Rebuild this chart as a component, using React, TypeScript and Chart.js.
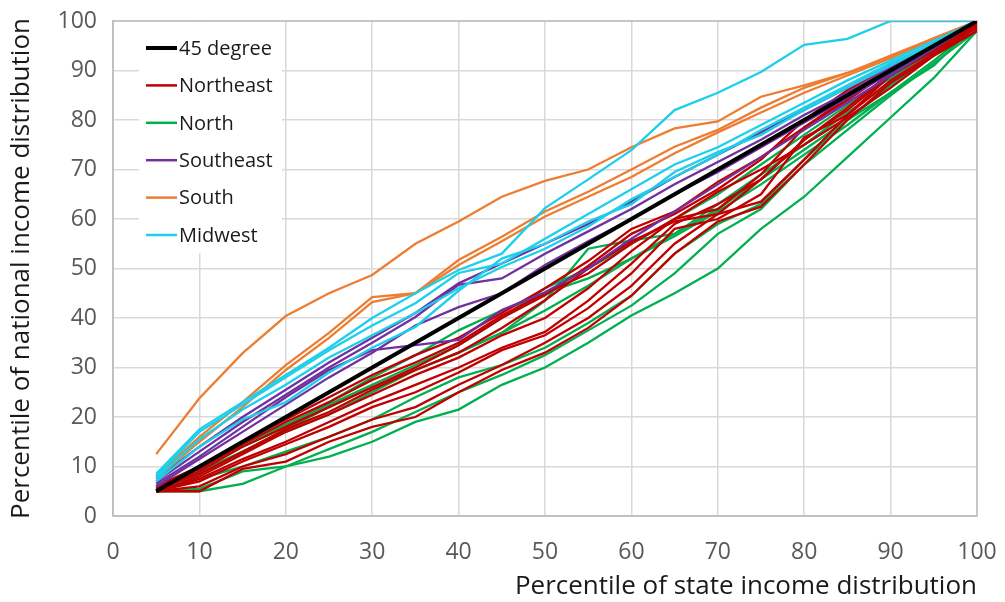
import React, { useEffect, useRef } from "react";
import { Chart, registerables } from "chart.js";

Chart.register(...registerables);

const xPercentiles = [5, 10, 15, 20, 25, 30, 35, 40, 45, 50, 55, 60, 65, 70, 75, 80, 85, 90, 95, 100];

const diagonal = [5, 10, 15, 20, 25, 30, 35, 40, 45, 50, 55, 60, 65, 70, 75, 80, 85, 90, 95, 100];

const northeast = [
  [5, 5, 9.5, 11, 15, 18, 20, 25, 29.5, 33, 38, 44.5, 53, 59.5, 62.5, 71, 80, 87.5, 93, 98],
  [5, 6, 10, 12.5, 16, 19.5, 22, 26.5, 30.5, 35, 40, 46.5, 55, 61, 63.5, 72, 81, 88, 93.5, 98],
  [5, 7, 11, 14.5, 18, 22, 25, 29, 33.5, 36.5, 42, 49, 58, 60, 65, 76.5, 81, 89, 94, 98.5],
  [5, 7.5, 11.5, 15, 19, 23, 26.5, 30, 34, 37.2, 43.5, 51, 59, 63, 68, 76, 82, 89, 94.5, 99],
  [5, 8, 12.5, 17, 20.5, 24.5, 28.5, 32, 36.5, 40, 46, 53.5, 60, 62, 69, 78.5, 84, 90, 95, 99],
  [5.5, 8.5, 13, 17.5, 21, 25.5, 29.5, 33, 38, 43.6, 50, 55.5, 59.5, 61, 68, 76, 82.5, 89.5, 94.5, 99],
  [5.5, 9, 14, 18, 22, 26, 30, 34.5, 40, 44.6, 50.5, 57, 61, 66, 72, 80, 86, 91, 95.5, 99.5],
  [6, 9.5, 14.5, 19, 23, 27.5, 31, 35, 40.5, 45, 49, 55, 60, 65.5, 70, 75, 80.5, 86.5, 93, 99.5],
  [6, 10, 15, 19.5, 24, 28.5, 32.5, 36, 41, 46, 51.5, 58, 61.5, 67.5, 72.5, 78.5, 84.5, 90, 95, 99.5],
];

const north = [
  [5, 5, 6.5, 10, 12, 15, 19, 21.5, 26.5, 30, 35, 40.5, 45, 50, 58, 64.5, 72.5, 80.5, 88.5, 98],
  [5, 5.5, 9, 10, 13.5, 17, 21, 25, 28.5, 32.5, 37.5, 42.5, 49, 57, 62, 71, 78, 85, 91.5, 98],
  [5, 7.5, 10, 13, 16, 19.5, 24, 28, 30.5, 34, 39, 44.5, 53, 59, 63, 72, 80, 87, 93, 99],
  [5, 8.5, 13, 17, 20.5, 25, 29.5, 33, 37, 41.5, 46.5, 52, 57, 63, 69, 75, 81.5, 87.5, 93.5, 99],
  [5.5, 9.5, 14.5, 18.5, 22.5, 26.5, 30.5, 34.5, 40, 46, 50, 55, 60, 65, 71, 77, 83, 88.5, 94, 99],
  [5.5, 9, 13, 17.5, 22, 26, 29.5, 33, 37, 43.5, 54, 55.7, 57, 62, 68, 74, 80, 85.5, 91, 99.5],
  [6, 10, 14, 18, 23, 28, 32.5, 37.5, 41.5, 45, 48, 52, 56.5, 61.5, 67, 73, 79, 85.5, 92, 99],
];

const southeast = [
  [7.5, 14, 20, 25.5, 31, 36, 41, 47, 51, 55, 59, 63.5, 68.5, 73, 77.5, 82, 86.5, 91, 95.5, 100],
  [7, 13, 19, 24.5, 30, 35, 40.2, 46.7, 48, 53, 57.5, 62, 67, 71.5, 76, 81, 85.5, 90.5, 95, 100],
  [6.5, 12, 18, 24, 29.5, 33.5, 34.5, 35.6, 41.6, 45.2, 50, 56, 61.5, 67, 72.5, 78, 83.5, 89, 94.5, 100],
  [6, 11.5, 17, 22.5, 28, 33, 38.5, 42.2, 45, 50.7, 55.5, 60, 65, 69.5, 74.5, 79.5, 84.5, 89.5, 94.5, 100],
];

const south = [
  [12.5, 23.8, 32.9, 40.4, 45, 48.7, 55, 59.5, 64.5, 67.7, 70, 74.5, 78.3, 79.7, 84.7, 87, 89.5, 92.7, 96, 100],
  [8, 16, 23, 30.5, 37, 44.2, 45, 51.7, 56.4, 61.5, 65.5, 70, 74.6, 78, 82.5, 86.5, 89.5, 93, 96.5, 100],
  [7.5, 15, 22, 29.5, 36, 43.2, 45, 50.7, 55.5, 60.5, 64.5, 68.5, 73.3, 77.5, 81.5, 85.5, 89, 92.5, 96.5, 100],
];

const midwest = [
  [8.5, 17.5, 23, 28.5, 34, 40, 45, 49.7, 53, 62.2, 68, 73.9, 82, 85.5, 89.7, 95.2, 96.4, 100, 100, 100],
  [8, 17, 22.5, 28, 33.5, 38.5, 43, 49.1, 51, 56, 61, 66, 71, 74.5, 79, 83.5, 88, 92, 96, 100],
  [7.5, 15.5, 21.5, 26.5, 32, 36.5, 41, 46, 50.3, 54, 58.5, 64, 68.5, 73, 78, 82.5, 87, 91.5, 95.5, 100],
  [7, 14, 19.5, 23, 29, 34, 38.2, 45.5, 52, 55, 59.5, 63, 69.5, 73.5, 77, 82, 86.5, 91, 95.5, 100],
];

const legendLabels = ["45 degree", "Northeast", "North", "Southeast", "South", "Midwest"];
const legendColors = ["#000000", "#C00000", "#00B050", "#7030A0", "#ED7D31", "#1CCFEA"];

const xAxisTitle = "Percentile of state income distribution";
const yAxisTitle = "Percentile of national income distribution";

const FONT = "'Open Sans', 'Noto Sans', sans-serif";

function toPoints(values: number[]) {
  return values.map((v, i) => ({ x: xPercentiles[i], y: v }));
}

export default function App() {
  const canvasRef = useRef<HTMLCanvasElement | null>(null);

  useEffect(() => {
    if (!canvasRef.current) return;

    const mk = (values: number[], color: string, width: number) => ({
      data: toPoints(values),
      borderColor: color,
      backgroundColor: color,
      borderWidth: width,
      pointRadius: 0,
      fill: false,
      tension: 0,
    });

    const datasets: any[] = [];
    datasets.push(mk(diagonal, legendColors[0], 4));
    midwest.forEach((s) => datasets.push(mk(s, legendColors[5], 2.3)));
    south.forEach((s) => datasets.push(mk(s, legendColors[4], 2.3)));
    southeast.forEach((s) => datasets.push(mk(s, legendColors[3], 2.3)));
    northeast.forEach((s) => datasets.push(mk(s, legendColors[1], 2.3)));
    north.forEach((s) => datasets.push(mk(s, legendColors[2], 2.3)));

    const frameAndLegend = {
      id: "frameAndLegend",
      beforeDatasetsDraw(chart: any) {
        const { ctx, chartArea } = chart;
        ctx.save();
        ctx.strokeStyle = "#bfbfbf";
        ctx.lineWidth = 1.5;
        ctx.strokeRect(chartArea.left, chartArea.top, chartArea.right - chartArea.left, chartArea.bottom - chartArea.top);

        const bx = chartArea.left + 26;
        const by = chartArea.top + 1;
        ctx.fillStyle = "#ffffff";
        ctx.fillRect(bx, by, 143, 231);

        ctx.font = "20px " + FONT;
        ctx.textBaseline = "middle";
        ctx.textAlign = "left";
        legendLabels.forEach((label, i) => {
          const y = chartArea.top + 27 + i * 37.4;
          ctx.beginPath();
          ctx.strokeStyle = legendColors[i];
          ctx.lineWidth = i === 0 ? 4 : 2.5;
          ctx.moveTo(bx + 7, y);
          ctx.lineTo(bx + 38, y);
          ctx.stroke();
          ctx.fillStyle = "#1a1a1a";
          ctx.fillText(label, bx + 40, y + 1);
        });
        ctx.restore();
      },
    };

    const chart = new Chart(canvasRef.current, {
      type: "line",
      data: { datasets },
      options: {
        animation: false,
        responsive: true,
        maintainAspectRatio: false,
        layout: { padding: { top: 21, right: 28, left: 0, bottom: 0 } },
        plugins: {
          legend: { display: false },
          tooltip: { enabled: false },
        },
        scales: {
          x: {
            type: "linear",
            min: 0,
            max: 100,
            ticks: {
              stepSize: 10,
              padding: 23,
              color: "#595959",
              font: { family: FONT, size: 23 },
            },
            grid: { color: "#d9d9d9", lineWidth: 1.5, drawTicks: false },
            border: { display: true, color: "#bfbfbf", width: 1.5 },
            title: {
              display: true,
              text: xAxisTitle,
              align: "end",
              color: "#1a1a1a",
              font: { family: FONT, size: 26 },
              padding: { top: 0, bottom: 0 },
            },
            afterFit(scale: any) {
              scale.height = 86;
              scale.paddingLeft = 0;
              scale.paddingRight = 0;
            },
          },
          y: {
            type: "linear",
            min: 0,
            max: 100,
            ticks: {
              stepSize: 10,
              padding: 16,
              color: "#595959",
              font: { family: FONT, size: 23 },
            },
            grid: { color: "#d9d9d9", lineWidth: 1.5, drawTicks: false },
            border: { display: true, color: "#bfbfbf", width: 1.5 },
            title: {
              display: true,
              text: yAxisTitle,
              color: "#1a1a1a",
              font: { family: FONT, size: 26 },
              padding: { top: 6, bottom: 0 },
            },
            afterFit(scale: any) {
              scale.width = 113;
              scale.paddingTop = 0;
              scale.paddingBottom = 0;
            },
          },
        },
      },
      plugins: [frameAndLegend],
    } as any);

    return () => chart.destroy();
  }, []);

  return (
    <div style={{ position: "absolute", left: 0, top: 0, width: 1005, height: 602, background: "#ffffff" }}>
      <canvas ref={canvasRef} />
    </div>
  );
}
